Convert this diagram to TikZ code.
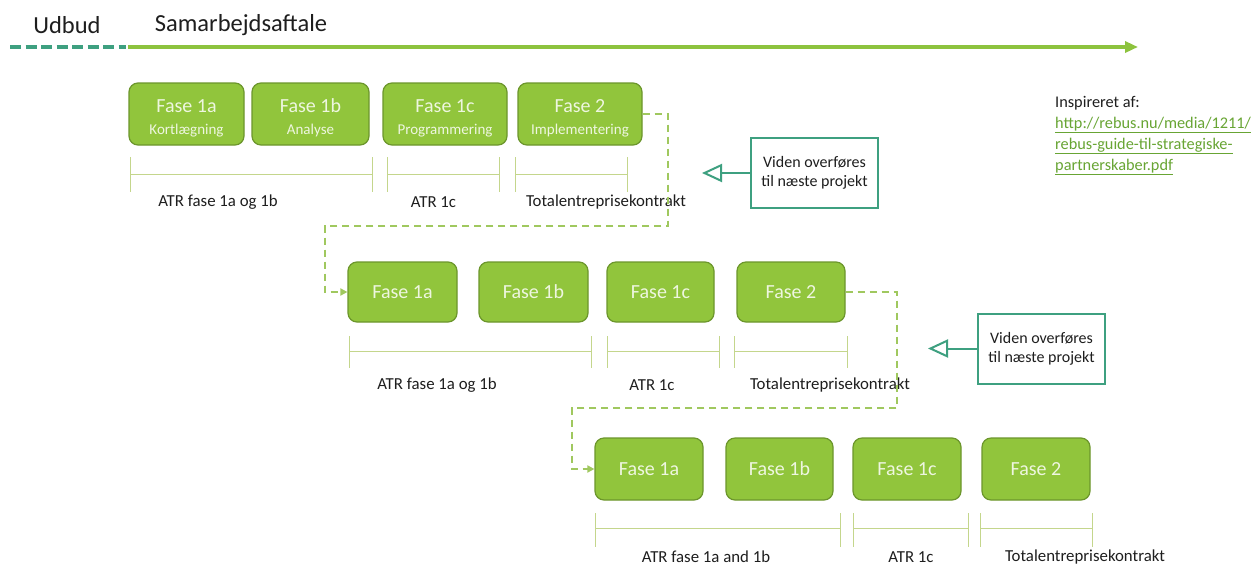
\documentclass[tikz,border=0pt]{standalone}
\usepackage{fontspec}
\setmainfont{Carlito}
\usetikzlibrary{arrows.meta}
\definecolor{boxgreen}{RGB}{145,197,60}
\definecolor{boxborder}{RGB}{108,150,44}
\definecolor{boxtext}{RGB}{238,246,224}
\definecolor{brkgreen}{RGB}{196,214,140}
\definecolor{conngreen}{RGB}{160,200,95}
\definecolor{topgreen}{RGB}{141,195,62}
\definecolor{tealc}{RGB}{62,160,128}
\definecolor{linkgreen}{RGB}{104,165,52}
\definecolor{txt}{RGB}{30,30,30}
\newcommand{\toppad}{\rule{0pt}{21pt}}
\begin{document}
\begin{tikzpicture}[x=1pt,y=-1pt,
  fase/.style={draw=boxborder, line width=1.2pt, fill=boxgreen, rounded corners=9pt,
    text=boxtext, align=center, inner sep=0pt, font=\fontsize{20}{22}\selectfont},
  lbl/.style={text=txt, inner sep=0pt, font=\fontsize{16.8}{19}\selectfont},
  brk/.style={draw=brkgreen, line width=1pt},
  conn/.style={draw=conngreen, line width=2pt, dash pattern=on 7pt off 5pt,
    -{Triangle[length=7pt,width=7pt]}},
  viden/.style={draw=tealc, line width=2pt, text=txt, align=center, inner sep=0pt,
    minimum width=127pt, minimum height=70pt, font=\fontsize{16}{19}\selectfont},
  vidarrow/.style={draw=tealc, line width=2pt, -{Triangle[open,length=20pt,width=18pt]}},
  toptxt/.style={text=txt, inner sep=0pt, font=\fontsize{24.5}{28}\selectfont}
]
\useasboundingbox[fill=white] (0,0) rectangle (1256,566);

% top timeline
\node[toptxt] (udbud) at (67,25) {Udbud};
\node[toptxt] (samarb) at (241,25) {Samarbejdsaftale};
\coordinate (t0) at (10,47);
\coordinate (t1) at (126,47);
\coordinate (t2) at (128,47);
\coordinate (t3) at (1138,47);
\draw[tealc, line width=3.5pt, dash pattern=on 11pt off 4.5pt] (t0) -- (t1);
\draw[topgreen, line width=3.5pt, -{Triangle[length=13pt,width=11pt]}] (t2) -- (t3);

% row 1
\node[fase, minimum width=115pt, minimum height=62pt] (r1a) at (186.5,114) {\toppad Fase 1a\\[0pt]{\fontsize{15}{16}\selectfont Kortlægning}};
\node[fase, minimum width=117pt, minimum height=62pt] (r1b) at (310.5,114) {\toppad Fase 1b\\[0pt]{\fontsize{15}{16}\selectfont Analyse}};
\node[fase, minimum width=124pt, minimum height=62pt] (r1c) at (445,114) {\toppad Fase 1c\\[0pt]{\fontsize{15}{16}\selectfont Programmering}};
\node[fase, minimum width=124pt, minimum height=62pt] (r1d) at (580,114) {\toppad Fase 2\\[0pt]{\fontsize{15}{16}\selectfont Implementering}};
\draw[brk] (130,157) -- (130,192) (372,157) -- (372,192) (130,174) -- (372,174);
\draw[brk] (387,157) -- (387,192) (499,157) -- (499,192) (387,174) -- (499,174);
\draw[brk] (515,157) -- (515,192) (627,157) -- (627,192) (515,174) -- (627,174);
\node[lbl] (l1a) at (218,202) {ATR fase 1a og 1b};
\node[lbl] (l1b) at (433.5,202) {ATR 1c};
\node[lbl] (l1c) at (606,202) {Totalentreprisekontrakt};

% row 2
\node[fase, minimum width=109pt, minimum height=60pt] (r2a) at (402.5,292) {Fase 1a};
\node[fase, minimum width=109pt, minimum height=60pt] (r2b) at (533.5,292) {Fase 1b};
\node[fase, minimum width=107pt, minimum height=60pt] (r2c) at (660.5,292) {Fase 1c};
\node[fase, minimum width=108pt, minimum height=60pt] (r2d) at (791,292) {Fase 2};
\draw[brk] (349,336) -- (349,368) (591,336) -- (591,368) (349,351) -- (591,351);
\draw[brk] (607,336) -- (607,368) (719,336) -- (719,368) (607,351) -- (719,351);
\draw[brk] (734,336) -- (734,368) (847,336) -- (847,368) (734,351) -- (847,351);
\node[lbl] (l2a) at (437,385) {ATR fase 1a og 1b};
\node[lbl] (l2b) at (652,385) {ATR 1c};
\node[lbl] (l2c) at (830,385) {Totalentreprisekontrakt};

% row 3
\node[fase, minimum width=108pt, minimum height=62pt] (r3a) at (649,469) {Fase 1a};
\node[fase, minimum width=107pt, minimum height=62pt] (r3b) at (779.5,469) {Fase 1b};
\node[fase, minimum width=108pt, minimum height=62pt] (r3c) at (907,469) {Fase 1c};
\node[fase, minimum width=108pt, minimum height=62pt] (r3d) at (1036,469) {Fase 2};
\draw[brk] (595,513) -- (595,547) (840,513) -- (840,547) (595,528) -- (840,528);
\draw[brk] (853,513) -- (853,547) (968,513) -- (968,547) (853,528) -- (968,528);
\draw[brk] (980,513) -- (980,547) (1092,513) -- (1092,547) (980,528) -- (1092,528);
\node[lbl] (l3a) at (706,557) {ATR fase 1a and 1b};
\node[lbl] (l3b) at (911,557) {ATR 1c};
\node[lbl] (l3c) at (1085,557) {Totalentreprisekontrakt};

% dashed connectors
\coordinate (c1a) at (668,226);
\coordinate (c1b) at (325,226);
\draw[conn] (r1d.east) -| (c1a) -- (c1b) |- (r2a.west);
\coordinate (c2a) at (897,408);
\coordinate (c2b) at (572,408);
\draw[conn] (r2d.east) -| (c2a) -- (c2b) |- (r3a.west);

% knowledge transfer boxes
\node[viden] (v1) at (814.5,173) {Viden overføres\\til næste projekt};
\coordinate (v1t) at (702,173);
\draw[vidarrow] (v1.west) -- (v1t);
\node[viden] (v2) at (1041.5,348.5) {Viden overføres\\til næste projekt};
\coordinate (v2t) at (928,348.5);
\draw[vidarrow] (v2.west) -- (v2t);

% source
\node[anchor=north west, align=left, inner sep=0pt, text=txt, font=\fontsize{16.3}{21}\selectfont] (src) at (1055,96)
{Inspireret af:\\
\textcolor{linkgreen}{\underline{http://rebus.nu/media/1211/}}\\
\textcolor{linkgreen}{\underline{rebus-guide-til-strategiske-}}\\
\textcolor{linkgreen}{\underline{partnerskaber.pdf}}};
\end{tikzpicture}
\end{document}
